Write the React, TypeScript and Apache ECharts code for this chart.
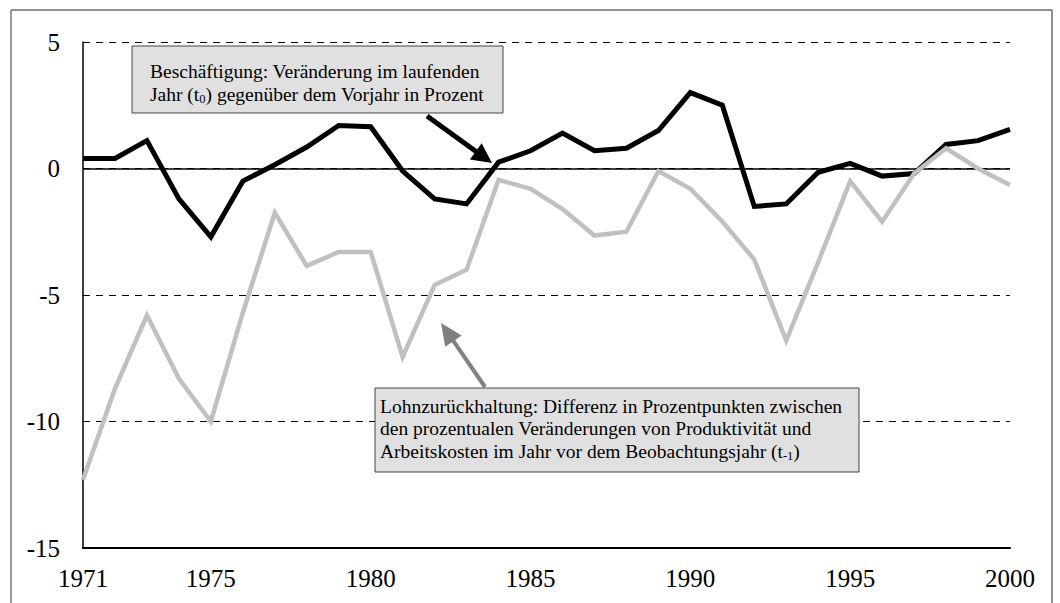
import React, { useEffect, useRef } from "react";
import * as echarts from "echarts";

const years = [
  1971, 1972, 1973, 1974, 1975, 1976, 1977, 1978, 1979, 1980,
  1981, 1982, 1983, 1984, 1985, 1986, 1987, 1988, 1989, 1990,
  1991, 1992, 1993, 1994, 1995, 1996, 1997, 1998, 1999, 2000,
];
const xTickLabels = [1971, 1975, 1980, 1985, 1990, 1995, 2000];

// Beschäftigung: Veränderung im laufenden Jahr (t0) gegenüber dem Vorjahr in Prozent
const employment = [
  0.4, 0.4, 1.1, -1.2, -2.7, -0.5, 0.15, 0.85, 1.7, 1.65,
  -0.1, -1.2, -1.4, 0.25, 0.7, 1.4, 0.7, 0.8, 1.5, 3.0,
  2.5, -1.5, -1.4, -0.15, 0.2, -0.3, -0.2, 0.95, 1.1, 1.55,
];

// Lohnzurückhaltung: Differenz in Prozentpunkten (t-1)
const wageRestraint = [
  -12.3, -8.7, -5.8, -8.3, -10.0, -5.7, -1.75, -3.85, -3.3, -3.3,
  -7.45, -4.6, -4.0, -0.45, -0.8, -1.6, -2.65, -2.5, -0.1, -0.8,
  -2.1, -3.6, -6.8, -3.7, -0.5, -2.1, -0.2, 0.8, 0.0, -0.65,
];

const employmentNote = [
  "Beschäftigung: Veränderung im laufenden",
  "Jahr (t{sub|0}) gegenüber dem Vorjahr in Prozent",
];
const wageNote = [
  "Lohnzurückhaltung: Differenz in Prozentpunkten zwischen",
  "den prozentualen Veränderungen von Produktivität und",
  "Arbeitskosten im Jahr vor dem Beobachtungsjahr (t{sub|-1})",
];

const FONT = "Liberation Serif";

function arrow(
  x1: number, y1: number, x2: number, y2: number,
  color: string, w: number, hl: number, hw: number
) {
  const dx = x2 - x1;
  const dy = y2 - y1;
  const L = Math.hypot(dx, dy);
  const ux = dx / L;
  const uy = dy / L;
  const bx = x2 - ux * hl;
  const by = y2 - uy * hl;
  const px = -uy;
  const py = ux;
  return [
    {
      type: "line",
      shape: { x1, y1, x2: bx + ux * 2, y2: by + uy * 2 },
      style: { stroke: color, lineWidth: w },
      z: 100,
    },
    {
      type: "polygon",
      shape: {
        points: [
          [x2, y2],
          [bx + px * hw, by + py * hw],
          [bx - px * hw, by - py * hw],
        ],
      },
      style: { fill: color },
      z: 100,
    },
  ];
}

function noteLines(lines: string[], x: number, y0: number, step: number) {
  return lines.map((t, i) => ({
    type: "text",
    z: 101,
    style: {
      text: t,
      x,
      y: y0 + i * step,
      fontSize: 19.5,
      fontFamily: FONT,
      fill: "#000",
      verticalAlign: "middle",
      lineHeight: 23,
      rich: {
        sub: {
          fontSize: 12.5,
          fontFamily: FONT,
          fill: "#000",
          lineHeight: 14,
          padding: [9, 0, 0, 0],
        },
      },
    },
  }));
}

export default function App() {
  const ref = useRef<HTMLDivElement>(null);

  useEffect(() => {
    if (!ref.current) return;
    const chart = echarts.init(ref.current, undefined, { renderer: "svg" });
    const option: any = {
      animation: false,
      backgroundColor: "#fff",
      textStyle: { fontFamily: FONT },
      grid: { left: 83, right: 50, top: 42, bottom: 55 },
      xAxis: {
        type: "value",
        min: 1971,
        max: 2000,
        interval: 1,
        axisLine: { show: true, onZero: false, lineStyle: { color: "#000", width: 2 } },
        axisTick: { show: false },
        splitLine: { show: false },
        axisLabel: {
          margin: 18,
          fontSize: 25,
          fontFamily: FONT,
          color: "#000",
          showMinLabel: true,
          showMaxLabel: true,
          formatter: (v: number) => (xTickLabels.includes(v) ? String(v) : ""),
        },
      },
      yAxis: {
        type: "value",
        min: -15,
        max: 5,
        interval: 5,
        axisLine: { show: true, lineStyle: { color: "#000", width: 1.5 } },
        axisTick: { show: false },
        axisLabel: {
          margin: 23,
          fontSize: 25,
          fontFamily: FONT,
          color: "#000",
        },
        splitLine: {
          show: true,
          lineStyle: { color: "#000", width: 1, type: [7, 6] },
        },
      },
      series: [
        {
          type: "line",
          data: years.map((y, i) => [y, employment[i]]),
          showSymbol: false,
          lineStyle: { color: "#000", width: 5, join: "miter", cap: "butt" },
          z: 3,
          markLine: {
            silent: true,
            symbol: "none",
            label: { show: false },
            lineStyle: { color: "#000", width: 1.5, type: "solid" },
            data: [{ yAxis: 0 }],
            z: 1,
          },
        },
        {
          type: "line",
          data: years.map((y, i) => [y, wageRestraint[i]]),
          showSymbol: false,
          lineStyle: { color: "#c0c0c0", width: 4.5, join: "miter", cap: "butt" },
          z: 4,
        },
      ],
      graphic: [
        // outer frame
        { type: "line", shape: { x1: 11, y1: 10, x2: 1052, y2: 10 }, style: { stroke: "#222", lineWidth: 1 } },
        { type: "line", shape: { x1: 11, y1: 10, x2: 11, y2: 603 }, style: { stroke: "#555", lineWidth: 1.2 } },
        { type: "line", shape: { x1: 1052, y1: 10, x2: 1052, y2: 603 }, style: { stroke: "#222", lineWidth: 1 } },
        // note boxes
        {
          type: "rect",
          z: 100,
          shape: { x: 132, y: 46, width: 371, height: 67 },
          style: { fill: "#e0e0e0", stroke: "#444", lineWidth: 1 },
        },
        ...noteLines(employmentNote, 150, 71, 23.3),
        {
          type: "rect",
          z: 100,
          shape: { x: 375, y: 388, width: 484, height: 84 },
          style: { fill: "#e0e0e0", stroke: "#444", lineWidth: 1 },
        },
        ...noteLines(wageNote, 380, 406, 22.7),
        ...arrow(427, 116, 492, 163, "#000", 5, 20, 10),
        ...arrow(485, 387, 441, 323, "#808080", 4, 22, 10),
      ],
    };
    chart.setOption(option);
    return () => chart.dispose();
  }, []);

  return (
    <div
      ref={ref}
      style={{ position: "absolute", left: 0, top: 0, width: 1060, height: 603, background: "#fff" }}
    />
  );
}
